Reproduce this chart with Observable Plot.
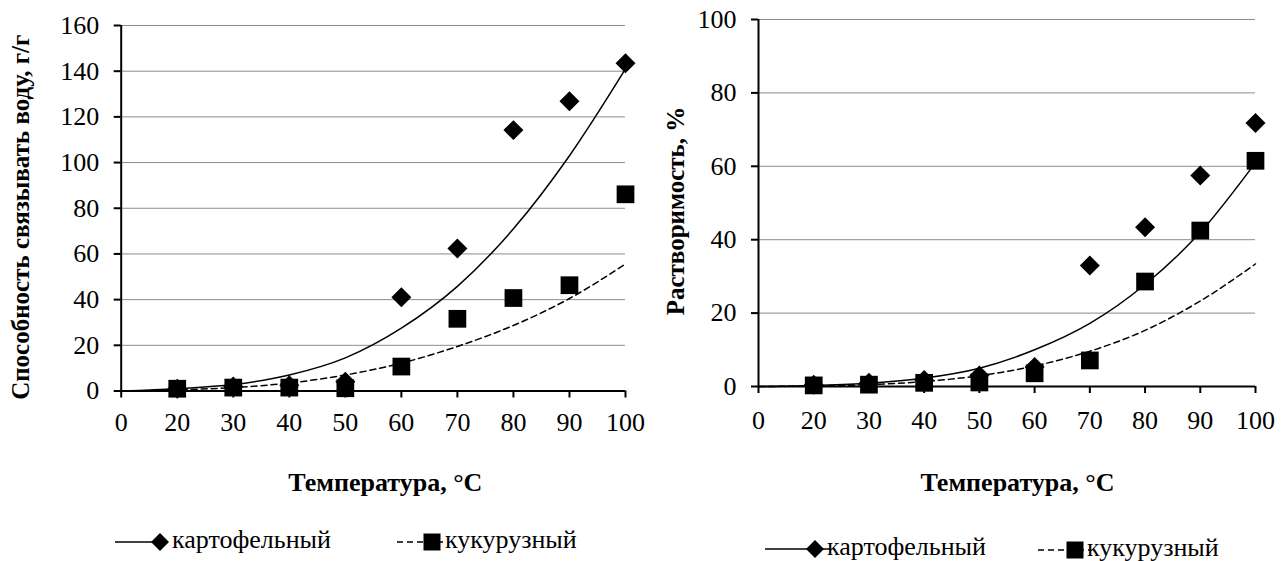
<!DOCTYPE html>
<html><head><meta charset="utf-8">
<script src="https://cdn.jsdelivr.net/npm/d3@7"></script>
<script src="https://cdn.jsdelivr.net/npm/@observablehq/plot@0.6"></script>
<style>
html,body{margin:0;padding:0;background:#fff;}
#wrap{position:relative;width:1288px;height:561px;overflow:hidden;background:#fff;}
#wrap > svg{position:absolute;}
</style></head><body><div id="wrap"></div>
<script>
const FONT = '"Liberation Serif", "Times New Roman", Times, serif';

// category axis (evenly spaced categories)
const xLabels = ["0", "20", "30", "40", "50", "60", "70", "80", "90", "100"];
const temperatures = [20, 30, 40, 50, 60, 70, 80, 90, 100];
const seriesNames = ["картофельный", "кукурузный"];

// Left chart: water binding capacity, g/g
const wbPotato = [1, 2, 2.5, 4, 41, 62.4, 114.2, 126.8, 143.5];
const wbCorn = [1, 1.5, 1.5, 1.2, 10.7, 31.6, 40.7, 46.3, 86.1];
// trend lines read at each category position (0 .. 100)
const wbTrendPotato = [0, 1, 2.8, 7, 14.5, 27.5, 45.8, 71, 103, 141];
const wbTrendCorn = [0, 0.5, 1.5, 3.5, 7, 12.2, 19.5, 28.7, 40.5, 55.6];
const wbTicks = [0, 20, 40, 60, 80, 100, 120, 140, 160];

// Right chart: solubility, %
const solPotato = [0.5, 1, 1.8, 3, 5.3, 33, 43.4, 57.5, 71.8];
const solCorn = [0.3, 0.5, 1, 1.1, 3.6, 7.1, 28.6, 42.5, 61.5];
const solTrendPotato = [0, 0.3, 0.9, 2.3, 5, 10, 17.2, 27.8, 42, 61];
const solTrendCorn = [0, 0.15, 0.5, 1.35, 2.95, 5.6, 9.6, 15.3, 23.3, 33.4];
const solTicks = [0, 20, 40, 60, 80, 100];

const xTitle = "Температура, °C";

const pts = vals => temperatures.map((t, k) => ({i: xLabels.indexOf(String(t)), v: vals[k]}));
const trend = vals => vals.map((v, i) => ({i, v}));

function chart(o) {
  return Plot.plot({
    width: o.width, height: o.height,
    marginLeft: o.ml, marginRight: o.mr, marginTop: o.mt, marginBottom: o.mb,
    x: {domain: [0, xLabels.length - 1]},
    y: {domain: [0, o.yTicks[o.yTicks.length - 1]]},
    style: {fontFamily: FONT, fontSize: "26px", background: "transparent", overflow: "visible", color: "black"},
    marks: [
      Plot.gridY({ticks: o.yTicks.slice(1), stroke: "#8c8c8c", strokeOpacity: 1, strokeWidth: 1}),
      Plot.dot(pts(o.pot), {x: "i", y: "v", symbol: "diamond2", fill: "black", r: 9}),
      Plot.dot(pts(o.corn), {x: "i", y: "v", symbol: "square", fill: "black", r: 10}),
      Plot.line(trend(o.tPot), {x: "i", y: "v", curve: "monotone-x", stroke: "black", strokeWidth: 1.5}),
      Plot.line(trend(o.tCorn), {x: "i", y: "v", curve: "monotone-x", stroke: "black", strokeWidth: 1.5, strokeDasharray: "6,4"}),
      Plot.ruleY([0], {stroke: "black", strokeWidth: 2}),
      Plot.ruleX([0], {stroke: "black", strokeWidth: 2}),
      Plot.axisY({ticks: o.yTicks, tickSize: 7, tickPadding: 15, strokeWidth: 2, fontSize: 26, label: null}),
      Plot.axisX({ticks: d3.range(xLabels.length), tickFormat: i => xLabels[i], tickSize: 7, tickPadding: o.xPad, strokeWidth: 2, fontSize: 26, label: null}),
      Plot.text([xTitle], {text: d => d, frameAnchor: "bottom", textAnchor: "middle", lineAnchor: "middle", dy: o.dyX, dx: o.dxX, fontWeight: "bold", fontSize: 26}),
      Plot.text([o.yTitle], {text: d => d, frameAnchor: "left", textAnchor: "middle", lineAnchor: "middle", rotate: -90, dx: o.dxY, dy: o.dyY, fontWeight: "bold", fontSize: 25})
    ]
  });
}

const wrap = document.getElementById("wrap");

const left = chart({
  width: 650, height: 510, ml: 120.7, mr: 25, mt: 25, mb: 119.5,
  pot: wbPotato, corn: wbCorn, tPot: wbTrendPotato, tCorn: wbTrendCorn,
  yTicks: wbTicks, yTitle: "Способность связывать воду, г/г",
  xPad: 15, dyX: 92, dxX: 12, dxY: -100, dyY: 9
});
left.style.left = "0px"; left.style.top = "0px";
wrap.appendChild(left);

const right = chart({
  width: 648, height: 510, ml: 118, mr: 33, mt: 19, mb: 124,
  pot: solPotato, corn: solCorn, tPot: solTrendPotato, tCorn: solTrendCorn,
  yTicks: solTicks, yTitle: "Растворимость, %",
  xPad: 17, dyX: 96, dxX: 10.5, dxY: -83, dyY: 8
});
right.style.left = "640px"; right.style.top = "0px";
wrap.appendChild(right);

// Legends (below each chart)
const ns = "http://www.w3.org/2000/svg";
const leg = document.createElementNS(ns, "svg");
leg.setAttribute("width", 1288); leg.setAttribute("height", 561);
leg.style.left = "0px"; leg.style.top = "0px"; leg.style.pointerEvents = "none";
wrap.appendChild(leg);
function el(tag, attrs, text) {
  const e = document.createElementNS(ns, tag);
  for (const k in attrs) e.setAttribute(k, attrs[k]);
  if (text) e.textContent = text;
  leg.appendChild(e);
  return e;
}
function item(x0, x1, mx, tx, y, dashed, symbol, label) {
  el("line", {x1: x0, x2: x1, y1: y, y2: y, stroke: "black", "stroke-width": 1.5, "stroke-dasharray": dashed ? "6,4" : "none"});
  if (symbol === "diamond") {
    el("path", {d: `M${mx},${y - 9}L${mx + 9},${y}L${mx},${y + 9}L${mx - 9},${y}Z`, fill: "black"});
  } else {
    el("rect", {x: mx - 8.5, y: y - 8.5, width: 17, height: 17, fill: "black"});
  }
  el("text", {x: tx, y: y + 6, "font-family": FONT, "font-size": 26, fill: "black"}, label);
}
item(115, 165, 160, 172, 542, false, "diamond", seriesNames[0]);
item(397, 447, 432, 445, 542, true, "square", seriesNames[1]);
item(765, 830, 815, 827, 549, false, "diamond", seriesNames[0]);
item(1038, 1090, 1075, 1087, 550, true, "square", seriesNames[1]);
</script></body></html>
